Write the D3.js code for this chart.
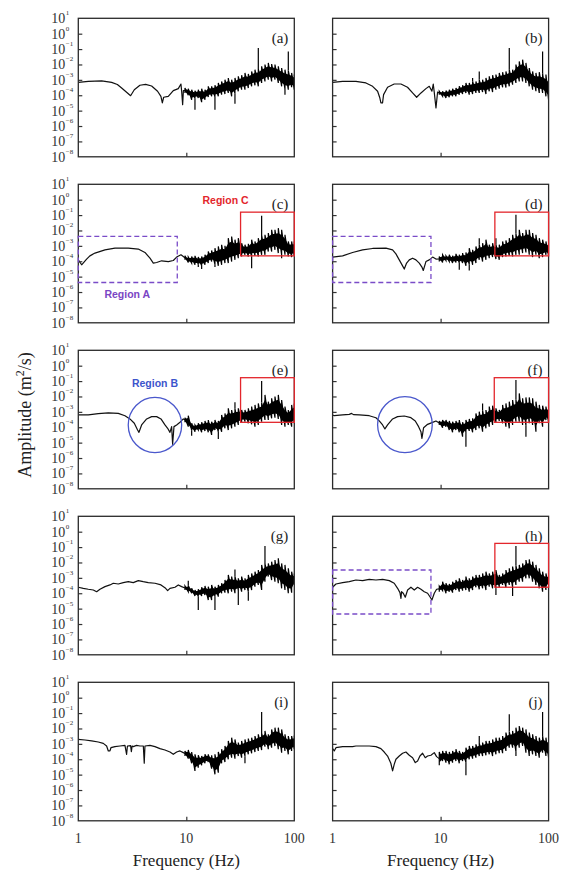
<!DOCTYPE html>
<html>
<head>
<meta charset="utf-8">
<script src="https://cdn.jsdelivr.net/npm/d3@7"></script>
<style>
  body { margin: 0; background: #fff; }
  svg { display: block; }
</style>
</head>
<body>
<div id="chart"></div>
<script>
// frequencies (Hz) of the columns of the noisy part, shared by all panels
const bandFreq = [9.72, 10.43, 11.21, 12.03, 12.91, 13.87, 14.89, 15.98, 17.16, 18.42,
  19.79, 21.24, 22.80, 24.48, 26.29, 28.22, 30.30, 32.53, 34.93, 37.51,
  40.27, 43.24, 46.42, 49.84, 53.51, 57.45, 61.68, 66.22, 71.10, 76.34,
  81.96, 88.0, 94.48, 100];

// low-frequency part of each trace: [Hz, log10 amplitude]
const lowA = [[1,-3.16],[1.238,-3.10],[1.644,-3.07],[2.035,-3.16],[2.3,-3.3],[2.519,-3.53],[2.80,-3.81],[3.05,-4.03],
  [3.30,-3.64],[3.72,-3.35],[4.20,-3.29],[4.775,-3.40],[5.42,-3.74],[5.82,-4.07],[6.0,-4.5],[6.17,-4.13],
  [6.81,-4.07],[7.58,-3.70],[8.43,-3.57],[8.92,-3.27],[9.06,-3.75],[9.25,-4.61],[9.4,-3.70]];
const lowB = [[1,-3.16],[1.238,-3.10],[1.644,-3.10],[2.035,-3.2],[2.346,-3.42],[2.61,-3.74],[2.74,-4.18],[2.80,-4.5],
  [2.90,-4.5],[2.965,-3.96],[3.229,-3.48],[3.72,-3.27],[4.29,-3.27],[4.94,-3.48],[5.505,-3.85],[6.0,-4.13],
  [6.58,-3.85],[7.315,-3.57],[7.854,-3.42],[8.31,-3.74],[8.55,-3.27],[8.73,-3.8],[9.06,-4.83],[9.38,-3.79]];
const lowC = [[1,-3.91],[1.074,-4.23],[1.194,-3.86],[1.28,-3.65],[1.427,-3.47],[1.766,-3.26],[2.185,-3.15],[2.904,-3.15],
  [3.593,-3.21],[4.142,-3.43],[4.609,-3.80],[4.949,-4.12],[5.313,-4.08],[5.91,-3.97],[6.813,-4.02],[7.58,-3.95],
  [8.14,-3.73],[8.93,-3.58],[9.38,-3.69]];
const lowD = [[1,-3.73],[1.238,-3.65],[1.531,-3.43],[1.896,-3.26],[2.346,-3.17],[3.118,-3.15],[3.593,-3.26],[3.858,-3.52],
  [4.142,-3.91],[4.447,-4.30],[4.609,-4.51],[4.845,-4.12],[5.127,-3.91],[5.505,-3.80],[5.91,-3.91],[6.345,-4.12],
  [6.717,-4.38],[6.91,-4.6],[7.315,-4.02],[7.854,-3.91],[8.433,-3.73],[9.055,-3.86]];
const lowE = [[1,-3.2],[1.238,-3.2],[1.531,-3.12],[1.896,-3.07],[2.346,-3.10],[2.704,-3.25],[3.006,-3.46],[3.30,-3.74],
  [3.54,-4.18],[3.645,-4.33],[3.858,-3.85],[4.294,-3.46],[4.775,-3.31],[5.313,-3.31],[5.828,-3.46],[6.345,-3.85],
  [6.717,-4.07],[7.06,-4.33],[7.315,-3.96],[7.47,-5.11],[7.69,-3.96],[8.14,-3.85],[8.74,-3.68],[9.38,-3.46]];
const lowF = [[1,-3.2],[1.036,-3.25],[1.238,-3.2],[1.427,-3.16],[1.5,-3.1],[1.56,-3.18],[1.766,-3.2],[2.185,-3.25],
  [2.519,-3.38],[2.704,-3.59],[2.904,-3.85],[3.05,-4.11],[3.229,-3.85],[3.593,-3.46],[3.995,-3.31],[4.609,-3.27],
  [5.313,-3.38],[5.828,-3.59],[6.256,-3.96],[6.575,-4.29],[6.717,-4.72],[6.96,-4.03],[7.58,-3.81],[8.433,-3.68],[9.055,-3.59]];
const lowG = [[1,-3.61],[1.112,-3.68],[1.238,-3.74],[1.377,-3.79],[1.479,-3.9],[1.587,-3.74],[1.766,-3.57],[1.964,-3.46],
  [2.109,-3.35],[2.346,-3.4],[2.61,-3.31],[2.904,-3.25],[3.229,-3.31],[3.593,-3.18],[3.995,-3.25],[4.447,-3.31],
  [5.127,-3.35],[5.828,-3.46],[6.436,-3.68],[6.717,-3.83],[7.06,-3.68],[7.854,-3.61],[8.433,-3.46],[9.055,-3.57]];
const lowH = [[1,-3.61],[1.074,-3.4],[1.238,-3.31],[1.427,-3.25],[1.644,-3.14],[1.896,-3.18],[2.185,-3.1],[2.519,-3.14],
  [2.904,-3.1],[3.35,-3.18],[3.72,-3.35],[3.998,-3.68],[4.203,-3.96],[4.294,-4.33],[4.35,-3.9],[4.511,-4.0],
  [4.708,-4.26],[4.949,-3.79],[5.313,-3.61],[5.705,-3.79],[6.124,-3.61],[6.575,-3.74],[7.06,-3.9],[7.58,-4.0],
  [8.02,-4.26],[8.31,-4.44],[8.74,-4.0],[9.18,-3.74]];
const lowI = [[1,-2.71],[1.153,-2.75],[1.329,-2.81],[1.531,-2.88],[1.703,-2.97],[1.829,-3.14],[1.896,-3.46],[1.964,-3.46],
  [2.006,-3.25],[2.185,-3.18],[2.43,-3.14],[2.704,-3.1],[2.80,-3.68],[2.85,-3.14],[3.05,-3.12],[3.1,-3.5],[3.15,-3.14],
  [3.229,-3.18],[3.46,-3.1],[3.72,-3.14],[4.0,-3.14],[4.08,-4.26],[4.142,-3.14],[4.609,-3.1],[5.127,-3.18],
  [5.705,-3.31],[6.345,-3.4],[7.06,-3.53],[7.58,-3.68],[8.14,-3.53],[8.74,-3.46],[9.38,-3.57]];
const lowJ = [[1,-3.3],[1.036,-3.46],[1.074,-3.25],[1.238,-3.18],[1.531,-3.18],[1.644,-3.14],[1.896,-3.14],[2.185,-3.14],
  [2.519,-3.18],[2.80,-3.31],[3.006,-3.53],[3.229,-3.79],[3.46,-4.26],[3.593,-4.76],[3.72,-4.33],[3.858,-4.0],
  [4.142,-3.79],[4.447,-3.61],[4.775,-3.53],[5.127,-3.74],[5.505,-3.9],[5.828,-4.22],[6.124,-4.11],[6.436,-3.79],
  [6.813,-3.61],[7.21,-3.9],[7.58,-3.79],[8.14,-3.74],[8.74,-3.57],[9.18,-3.83]];

// noisy part, one entry per bandFreq: [log10 low, log10 high, optional spike tip]
const bandA = [[-3.85,-3.53],[-4.0,-3.57],[-4.29,-3.64],[-4.2,-3.7,-4.94],[-4.18,-3.64],[-4.45,-3.57],[-4.29,-3.64],
  [-4.12,-3.42],[-4.07,-3.42],[-4.1,-3.35,-4.94],[-4.07,-3.2],[-3.96,-3.1],[-3.92,-2.99],[-3.85,-2.88],[-4.07,-2.99],
  [-3.9,-2.88,-4.56],[-3.74,-2.77],[-3.64,-2.7],[-3.64,-2.55],[-3.53,-2.62],[-3.42,-2.45],[-3.35,-2.34],
  [-3.42,-2.3,-0.93],[-3.2,-2.12],[-3.1,-2.01],[-2.99,-1.9],[-3.1,-1.97],[-2.99,-2.01],[-3.2,-2.12],[-3.42,-2.23],
  [-3.6,-2.34,-3.96],[-3.64,-2.4,-1.15],[-3.48,-2.55],[-3.64,-2.66]];
const bandB = [[-3.96,-3.74],[-4.07,-3.74],[-4.18,-3.7],[-4.13,-3.64],[-4.07,-3.57],[-4.07,-3.53],[-3.96,-3.42],
  [-3.92,-3.35],[-3.85,-3.2],[-3.96,-3.2],[-3.92,-3.1,-2.88],[-3.85,-3.1],[-3.85,-3.0,-2.45],[-3.79,-2.99],
  [-3.92,-2.88],[-3.74,-2.77],[-3.79,-2.7],[-3.64,-2.66],[-3.57,-2.55],[-3.48,-2.5],[-3.5,-2.45],[-3.42,-2.34,-0.93],
  [-3.31,-2.34],[-3.2,-2.01],[-3.1,-1.8],[-3.1,-1.69],[-3.2,-1.9],[-3.42,-2.23],[-3.64,-2.45],[-3.74,-2.55],
  [-3.85,-2.5],[-3.85,-2.6,-1.15],[-4.07,-2.66],[-4.3,-2.88,-4.61]];
const bandC = [[-3.91,-3.65],[-4.08,-3.73],[-4.12,-3.69],[-4.23,-3.65],[-4.2,-3.73,-4.38],[-4.3,-3.69,-4.51],
  [-4.23,-3.58],[-4.12,-3.37],[-4.02,-3.3],[-4.2,-3.15,-4.38],[-4.30,-3.04],[-4.23,-2.93],[-4.12,-3.0],[-4.12,-2.5],
  [-4.02,-2.39],[-3.91,-2.6],[-3.8,-2.5],[-3.69,-2.83],[-3.58,-2.93],[-3.69,-2.87],[-3.7,-2.6,-4.45],[-3.65,-2.71],
  [-3.69,-2.5],[-3.58,-2.3,-1.05],[-3.58,-2.28],[-3.37,-2.17],[-3.37,-1.96],[-3.26,-1.96],[-3.47,-1.85],
  [-3.6,-1.96,-3.8],[-3.58,-2.28],[-3.69,-2.71],[-3.73,-2.71],[-3.65,-2.71]];
const bandD = [[-4.02,-3.69],[-4.08,-3.58],[-3.95,-3.65],[-4.02,-3.58],[-4.12,-3.65],[-4.08,-3.52],[-4.1,-3.58,-4.56],
  [-4.12,-3.47],[-4.3,-3.43],[-4.2,-3.15,-4.6],[-4.23,-3.26],[-4.12,-3.04],[-3.91,-2.9,-2.5],[-4.02,-2.83],
  [-3.91,-2.6],[-3.8,-2.93],[-3.73,-2.83],[-3.86,-2.9,-2.5],[-3.91,-2.93],[-3.73,-2.71],[-3.69,-2.65],[-3.65,-2.5],
  [-3.69,-2.28],[-3.58,-2.2,-0.98],[-3.58,-1.96],[-3.47,-2.17],[-3.43,-1.96],[-3.58,-1.96],[-3.73,-2.17],
  [-3.58,-2.28],[-3.8,-2.5],[-3.73,-2.6],[-3.58,-2.71],[-3.65,-2.83]];
const bandE = [[-3.68,-3.38],[-3.96,-3.25],[-4.2,-3.74,-4.55],[-4.29,-3.85],[-4.18,-3.74],[-4.33,-3.68],[-4.24,-3.59],
  [-4.33,-3.53],[-4.5,-3.64],[-4.18,-3.53],[-4.3,-3.59,-4.76],[-4.29,-3.2],[-4.07,-3.1],[-4.18,-2.77],[-4.07,-2.88],
  [-3.96,-2.8,-2.38],[-3.85,-2.77],[-3.68,-2.88],[-3.64,-2.88],[-3.74,-2.77],[-3.81,-2.66],[-3.96,-2.55],
  [-3.85,-2.45],[-3.64,-2.4,-1.0],[-3.53,-1.9],[-3.53,-2.34],[-3.42,-2.12],[-3.38,-2.01],[-3.46,-1.9],
  [-3.85,-2.23],[-3.96,-2.66],[-3.85,-2.88],[-3.96,-2.55],[-3.74,-2.45]];
const bandF = [[-3.85,-3.59],[-4.03,-3.53],[-3.96,-3.53],[-4.18,-3.59],[-4.33,-3.64],[-4.18,-3.59],[-4.33,-3.53],
  [-4.61,-3.68],[-4.3,-3.53,-5.26],[-4.24,-3.46],[-4.33,-3.42],[-4.18,-3.1],[-4.07,-2.99],[-4.29,-2.9,-2.45],
  [-4.07,-2.88],[-3.96,-2.66],[-3.85,-2.6],[-3.68,-2.77],[-3.59,-2.88],[-3.74,-2.55],[-3.96,-2.45],[-4.07,-2.34],
  [-3.85,-2.23],[-3.64,-2.2,-0.93],[-3.64,-1.8],[-3.85,-2.12],[-3.9,-2.06,-4.61],[-3.74,-2.06],[-3.85,-2.12],
  [-4.29,-2.34],[-3.74,-2.55],[-3.96,-2.6],[-3.53,-2.66],[-3.68,-2.66]];
const bandG = [[-3.79,-3.53],[-3.9,-3.5,-3.18],[-4.0,-3.68],[-4.18,-3.79],[-4.2,-3.74,-5.09],[-4.18,-3.61],
  [-4.11,-3.53],[-4.44,-3.57],[-4.44,-3.46],[-4.2,-3.57,-5.09],[-4.22,-3.46],[-4.0,-3.35],[-3.96,-3.14],[-4.0,-2.81],
  [-3.9,-2.92],[-4.0,-2.9,-2.45],[-3.79,-3.03,-4.76],[-3.9,-2.92],[-3.79,-3.03],[-3.9,-2.81,-4.48],[-3.79,-2.71],
  [-3.57,-2.6],[-3.46,-2.49],[-3.79,-2.16],[-3.25,-2.1,-0.93],[-2.92,-2.06],[-3.14,-1.95],[-3.25,-1.84],
  [-3.35,-1.73],[-3.68,-2.06],[-3.79,-2.16],[-4.0,-2.38],[-3.96,-2.6],[-3.46,-2.71]];
const bandH = [[-3.9,-3.53],[-3.83,-3.25],[-4.0,-3.35],[-3.9,-3.4],[-3.96,-3.25],[-3.79,-3.14],[-3.9,-3.03],
  [-3.83,-3.14],[-3.79,-2.92],[-3.9,-3.03],[-3.79,-2.92],[-3.61,-2.81],[-3.74,-2.81],[-3.68,-2.71],[-3.79,-2.6],
  [-3.57,-2.71],[-3.68,-2.6],[-3.7,-2.49,-4.11],[-3.61,-2.81],[-3.46,-2.71],[-3.61,-2.49],[-3.46,-2.38],
  [-3.6,-2.27,-4.18],[-3.46,-2.2,-0.93],[-3.25,-2.16],[-3.25,-2.06],[-3.03,-1.84],[-3.03,-1.8],[-3.25,-1.95],
  [-3.46,-2.16],[-3.68,-2.38],[-3.9,-2.6],[-3.79,-2.71],[-3.46,-2.81]];
const bandI = [[-3.79,-3.46],[-3.96,-3.4],[-4.26,-3.53],[-4.76,-3.68],[-4.55,-3.74],[-4.39,-3.79],[-4.26,-3.68],
  [-4.18,-3.68],[-4.61,-3.74],[-4.98,-3.68],[-4.87,-3.53],[-4.26,-3.35],[-4.18,-3.14],[-4.0,-2.81],[-3.9,-2.6],
  [-3.96,-2.71],[-3.79,-2.92],[-3.9,-2.81],[-3.8,-2.71,-4.26],[-3.68,-2.66],[-3.61,-2.6],[-3.53,-2.49],
  [-3.46,-2.38],[-3.4,-2.3,-0.93],[-3.18,-2.16],[-3.35,-2.38],[-3.25,-2.06],[-3.14,-1.95],[-3.35,-1.95],
  [-3.57,-2.06],[-3.46,-2.38],[-3.68,-2.49],[-3.46,-2.49],[-3.35,-2.45]];
const bandJ = [[-4.39,-3.53],[-4.11,-3.46],[-4.22,-3.46],[-4.33,-3.53],[-4.22,-3.46],[-4.11,-3.35],[-4.26,-3.46],
  [-4.11,-3.53],[-4.2,-3.25,-5.04],[-4.0,-3.14],[-3.96,-3.14],[-3.9,-3.03],[-3.79,-2.95,-2.49],[-3.79,-2.92],
  [-3.74,-2.81],[-3.68,-2.81],[-3.79,-2.71],[-3.68,-2.6],[-3.61,-2.6],[-3.61,-2.49],[-3.46,-2.27],[-3.25,-2.2,-1.08],
  [-3.25,-2.16],[-3.5,-1.95,-3.79],[-3.25,-1.84],[-3.14,-1.95],[-3.57,-2.06],[-3.79,-2.27],[-3.68,-2.38],
  [-3.79,-2.49],[-3.9,-2.6],[-3.57,-2.5,-0.93],[-3.79,-2.6],[-3.9,-2.71]];

const panelIds = ["a", "b", "c", "d", "e", "f", "g", "h", "i", "j"];
const lows = [lowA, lowB, lowC, lowD, lowE, lowF, lowG, lowH, lowI, lowJ];
const bands = [bandA, bandB, bandC, bandD, bandE, bandF, bandG, bandH, bandI, bandJ];

// y tick exponents and x tick labels
const yTickExps = [1, 0, -1, -2, -3, -4, -5, -6, -7, -8];
const xTicks = [1, 10, 100];

// annotations: [panel, f from, f to, log10 amp from, log10 amp to]
const regionA = [["c", 1, 8.25, -5.38, -2.39], ["d", 1, 8.14, -5.38, -2.39], ["h", 1, 8.14, -5.35, -2.49]];
const regionC = [["c", 31.8, 100, -3.65, -0.81], ["d", 31.8, 100, -3.65, -0.81], ["e", 31.8, 100, -3.68, -0.78],
  ["f", 31.4, 100, -3.68, -0.78], ["h", 31.8, 100, -3.61, -0.76]];
const regionB = [["e", 2.9, 9.06, -5.65, -2.06], ["f", 2.61, 8.37, -5.65, -2.01]];
// captions: [panel, text, f, log10 amp]
const captions = [["c", "Region C", 23.1, -0.05], ["c", "Region A", 2.84, -6.18], ["e", "Region B", 5.13, -1.15]];

const W = 564, H = 871;
const colX = [78.3, 332.6];
const rowY = [18.3, 184.3, 350.3, 516.3, 682.3];
const pw = 216, ph = 138.5;
const serif = "'Liberation Serif', 'Times New Roman', serif";
const sans = "'Liberation Sans', Arial, sans-serif";

const svg = d3.select("#chart").append("svg")
  .attr("width", W)
  .attr("height", H);

const x = d3.scaleLog().domain([1, 100]).range([0, pw]);
const y = d3.scaleLog().domain([1e-8, 10]).range([ph, 0]);
const amp = e => Math.pow(10, e);

const line = d3.line()
  .x(d => x(d[0]))
  .y(d => y(amp(d[1])));

// solid middle of the noisy band
const core = d3.area()
  .x((d, i) => x(bandFreq[i]))
  .y0(d => y(amp(d[0] + 0.2 * (d[1] - d[0]))))
  .y1(d => y(amp(d[1] - 0.2 * (d[1] - d[0]))));

const panelG = {};

panelIds.forEach(function(id, k) {
  let col = k % 2, row = Math.floor(k / 2);
  let g = svg.append("g").attr("transform", "translate(" + colX[col] + "," + rowY[row] + ")");
  panelG[id] = g;

  g.append("clipPath").attr("id", "clip-" + id)
    .append("rect").attr("width", pw).attr("height", ph);

  let plot = g.append("g").attr("clip-path", "url(#clip-" + id + ")");

  // low-frequency part, joined to the middle of the first noisy column
  let band = bands[k];
  let lowData = lows[k].concat([[bandFreq[0], (band[0][0] + band[0][1]) / 2]]);
  plot.append("path")
    .attr("d", line(lowData))
    .attr("fill", "none")
    .attr("stroke", "#111")
    .attr("stroke-width", 1.2)
    .attr("stroke-linejoin", "round");

  // noisy band: solid core plus a saw-tooth trace between low and high
  plot.append("path")
    .attr("d", core(band))
    .attr("fill", "#000");

  let saw = [];
  band.forEach(function(d, i) {
    saw.push([bandFreq[i], d[0]]);
    saw.push([bandFreq[i], d[1]]);
  });
  plot.append("path")
    .attr("d", line(saw))
    .attr("fill", "none")
    .attr("stroke", "#000")
    .attr("stroke-width", 1.2)
    .attr("stroke-linejoin", "miter");

  // single spikes
  plot.selectAll("line.spike")
    .data(band.map((d, i) => [bandFreq[i], d]).filter(d => d[1].length > 2))
    .enter().append("line")
    .attr("class", "spike")
    .attr("x1", d => x(d[0]))
    .attr("x2", d => x(d[0]))
    .attr("y1", d => y(amp(d[1][2] > d[1][1] ? d[1][1] : d[1][0])))
    .attr("y2", d => y(amp(d[1][2])))
    .attr("stroke", "#000")
    .attr("stroke-width", 1.2);

  // ticks pointing inwards
  let yAxis = g.append("g")
    .call(d3.axisLeft(y).tickValues(yTickExps.slice(1, -1).map(amp)).tickSizeInner(-4).tickSizeOuter(0).tickFormat(""));
  yAxis.select(".domain").remove();
  yAxis.selectAll("line").attr("stroke", "#333").attr("stroke-width", 1.2);

  let xAxis = g.append("g").attr("transform", "translate(0," + ph + ")")
    .call(d3.axisBottom(x).tickValues([10]).tickSizeInner(-4).tickSizeOuter(0).tickFormat(""));
  xAxis.select(".domain").remove();
  xAxis.selectAll("line").attr("stroke", "#333").attr("stroke-width", 1.2);

  // frame
  g.append("rect")
    .attr("width", pw).attr("height", ph)
    .attr("fill", "none")
    .attr("stroke", "#2a2a2a")
    .attr("stroke-width", 1.3);

  // panel letter
  g.append("text")
    .attr("x", pw - 6).attr("y", 25)
    .attr("text-anchor", "end")
    .attr("font-family", serif)
    .attr("font-size", 15)
    .attr("fill", "#222")
    .text("(" + id + ")");

  // y tick labels on the left column
  if (col === 0) {
    yTickExps.forEach(function(e) {
      let yy = y(amp(e));
      g.append("text")
        .attr("x", -13).attr("y", yy).attr("dy", "0.35em")
        .attr("text-anchor", "end")
        .attr("font-family", serif).attr("font-size", 14).attr("fill", "#333")
        .text("10");
      g.append("text")
        .attr("x", -12.5).attr("y", yy - 3)
        .attr("font-family", serif).attr("font-size", 7).attr("fill", "#333")
        .text(e < 0 ? "\u2212" + (-e) : String(e));
    });
  }

  // x tick labels on the bottom row
  if (row === 4) {
    g.selectAll("text.xt").data(xTicks).enter().append("text")
      .attr("class", "xt")
      .attr("x", d => x(d)).attr("y", ph + 22)
      .attr("text-anchor", "middle")
      .attr("font-family", serif).attr("font-size", 14).attr("fill", "#333")
      .text(d => d);
    g.append("text")
      .attr("x", pw / 2).attr("y", ph + 45)
      .attr("text-anchor", "middle")
      .attr("font-family", serif).attr("font-size", 17).attr("fill", "#222")
      .text("Frequency (Hz)");
  }
});

// Region A dashed boxes
regionA.forEach(function(r) {
  panelG[r[0]].append("rect")
    .attr("x", x(r[1])).attr("y", y(amp(r[4])))
    .attr("width", x(r[2]) - x(r[1]))
    .attr("height", y(amp(r[3])) - y(amp(r[4])))
    .attr("fill", "none")
    .attr("stroke", "#7a4cc8")
    .attr("stroke-width", 1.3)
    .attr("stroke-dasharray", "5,3");
});

// Region C red boxes
regionC.forEach(function(r) {
  panelG[r[0]].append("rect")
    .attr("x", x(r[1])).attr("y", y(amp(r[4])))
    .attr("width", x(r[2]) - x(r[1]))
    .attr("height", y(amp(r[3])) - y(amp(r[4])))
    .attr("fill", "none")
    .attr("stroke", "#e3262c")
    .attr("stroke-width", 1.3);
});

// Region B circles
regionB.forEach(function(r) {
  let x0 = x(r[1]), x1 = x(r[2]), y0 = y(amp(r[4])), y1 = y(amp(r[3]));
  panelG[r[0]].append("ellipse")
    .attr("cx", (x0 + x1) / 2).attr("cy", (y0 + y1) / 2)
    .attr("rx", (x1 - x0) / 2).attr("ry", (y1 - y0) / 2)
    .attr("fill", "none")
    .attr("stroke", "#4a58cc")
    .attr("stroke-width", 1.3);
});

const captionColor = { "Region A": "#7a45c4", "Region B": "#3c55cc", "Region C": "#e3262c" };
captions.forEach(function(c) {
  panelG[c[0]].append("text")
    .attr("x", x(c[2])).attr("y", y(amp(c[3]))).attr("dy", "0.35em")
    .attr("text-anchor", "middle")
    .attr("font-family", sans).attr("font-size", 10.5).attr("font-weight", "bold")
    .attr("fill", captionColor[c[1]])
    .text(c[1]);
});

// shared y label
const yLabel = svg.append("text")
  .attr("transform", "translate(31,415) rotate(-90)")
  .attr("text-anchor", "middle")
  .attr("font-family", serif).attr("font-size", 18).attr("fill", "#222");
yLabel.append("tspan").text("Amplitude (m");
yLabel.append("tspan").attr("dy", -7).attr("font-size", 12).text("2");
yLabel.append("tspan").attr("dy", 7).text("/s)");
</script>
</body>
</html>
